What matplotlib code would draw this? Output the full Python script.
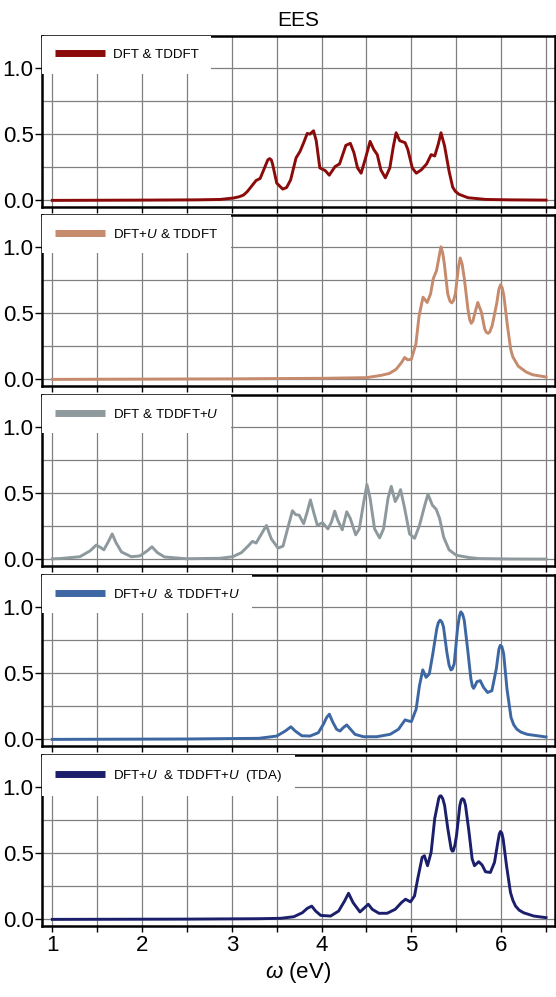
import matplotlib
matplotlib.use('Agg')
import matplotlib.pyplot as plt
from matplotlib.ticker import MultipleLocator

plt.rcParams['font.family'] = ['Liberation Sans', 'DejaVu Sans']
plt.rcParams['mathtext.fontset'] = 'custom'
plt.rcParams['mathtext.rm'] = 'Liberation Sans'
plt.rcParams['mathtext.it'] = 'Liberation Sans:italic'

# EES spectra, omega in eV
w_dft = [1.0, 2.0, 2.6, 2.87, 3.02, 3.08, 3.13, 3.17, 3.20, 3.27, 3.315, 3.37, 3.40, 3.42,
         3.44, 3.455, 3.50, 3.567, 3.61, 3.655, 3.715, 3.76, 3.80, 3.84, 3.87, 3.91, 3.94,
         3.98, 4.04, 4.085, 4.15, 4.20, 4.27, 4.32, 4.36, 4.40, 4.44, 4.49, 4.54, 4.58, 4.62,
         4.66, 4.71, 4.76, 4.80, 4.83, 4.87, 4.93, 4.96, 5.01, 5.055, 5.11, 5.17, 5.22, 5.26,
         5.30, 5.33, 5.37, 5.42, 5.46, 5.49, 5.53, 5.63, 5.83, 6.1, 6.5]
ees_dft = [0.0, 0.002, 0.004, 0.007, 0.018, 0.027, 0.04, 0.065, 0.09, 0.15, 0.165, 0.255,
           0.305, 0.315, 0.305, 0.27, 0.13, 0.085, 0.097, 0.155, 0.32, 0.37, 0.435, 0.505,
           0.50, 0.525, 0.45, 0.245, 0.225, 0.19, 0.255, 0.275, 0.415, 0.43, 0.36, 0.245,
           0.205, 0.32, 0.445, 0.385, 0.345, 0.23, 0.17, 0.245, 0.41, 0.51, 0.45, 0.435,
           0.385, 0.245, 0.205, 0.23, 0.275, 0.345, 0.335, 0.425, 0.51, 0.41, 0.22, 0.10,
           0.068, 0.046, 0.02, 0.007, 0.004, 0.002]

w_dftu = [1.0, 2.0, 3.0, 4.0, 4.5, 4.66, 4.756, 4.83, 4.89, 4.925, 4.96, 5.0, 5.05, 5.086,
          5.13, 5.176, 5.214, 5.244, 5.28, 5.31, 5.33, 5.35, 5.367, 5.405, 5.43, 5.45, 5.47,
          5.49, 5.525, 5.544, 5.565, 5.59, 5.63, 5.65, 5.667, 5.685, 5.705, 5.74, 5.78, 5.817,
          5.835, 5.855, 5.875, 5.90, 5.95, 5.975, 5.994, 6.012, 6.03, 6.07, 6.106, 6.13, 6.19,
          6.28, 6.35, 6.5]
ees_dftu = [0.0, 0.002, 0.004, 0.008, 0.013, 0.03, 0.045, 0.076, 0.127, 0.165, 0.147, 0.152,
            0.266, 0.48, 0.62, 0.58, 0.645, 0.76, 0.82, 0.93, 1.0, 0.95, 0.873, 0.645, 0.59,
            0.577, 0.595, 0.645, 0.85, 0.916, 0.87, 0.76, 0.53, 0.45, 0.423, 0.44, 0.494,
            0.58, 0.506, 0.38, 0.355, 0.347, 0.36, 0.405, 0.57, 0.68, 0.714, 0.69, 0.633,
            0.405, 0.228, 0.17, 0.10, 0.055, 0.035, 0.018]

w_tdu = [1.0, 1.084, 1.307, 1.42, 1.49, 1.537, 1.574, 1.62, 1.667, 1.708, 1.77, 1.88, 1.975,
         2.057, 2.11, 2.17, 2.25, 2.49, 2.866, 3.01, 3.107, 3.18, 3.23, 3.27, 3.33, 3.385,
         3.44, 3.515, 3.57, 3.626, 3.675, 3.71, 3.75, 3.80, 3.84, 3.875, 3.91, 3.953, 4.01,
         4.07, 4.11, 4.146, 4.18, 4.23, 4.28, 4.32, 4.38, 4.42, 4.47, 4.505, 4.54, 4.59,
         4.646, 4.69, 4.74, 4.776, 4.82, 4.85, 4.88, 4.925, 4.98, 5.036, 5.09, 5.15, 5.185,
         5.233, 5.277, 5.315, 5.36, 5.42, 5.5, 5.65, 5.756, 6.1, 6.5]
ees_tdu = [0.004, 0.006, 0.02, 0.064, 0.108, 0.09, 0.072, 0.128, 0.192, 0.128, 0.056, 0.02,
           0.026, 0.064, 0.095, 0.051, 0.018, 0.005, 0.008, 0.02, 0.051, 0.10, 0.136, 0.123,
           0.192, 0.256, 0.154, 0.085, 0.10, 0.244, 0.367, 0.338, 0.333, 0.269, 0.359, 0.449,
           0.359, 0.256, 0.277, 0.23, 0.282, 0.364, 0.295, 0.223, 0.359, 0.308, 0.185, 0.23,
           0.436, 0.564, 0.462, 0.23, 0.162, 0.23, 0.462, 0.551, 0.436, 0.474, 0.526, 0.385,
           0.192, 0.159, 0.256, 0.41, 0.492, 0.41, 0.377, 0.308, 0.167, 0.072, 0.031, 0.013,
           0.006, 0.003, 0.002]

w_uu = [1.0, 2.5, 3.3, 3.5, 3.595, 3.658, 3.706, 3.78, 3.87, 3.963, 4.02, 4.056, 4.086, 4.123,
        4.167, 4.205, 4.242, 4.28, 4.316, 4.372, 4.465, 4.614, 4.763, 4.856, 4.93, 4.967, 5.0,
        5.053, 5.09, 5.127, 5.164, 5.2, 5.239, 5.283, 5.30, 5.32, 5.34, 5.358, 5.395, 5.42,
        5.44, 5.455, 5.477, 5.514, 5.535, 5.551, 5.57, 5.589, 5.626, 5.663, 5.68, 5.693, 5.71,
        5.73, 5.767, 5.804, 5.849, 5.897, 5.946, 5.975, 5.99, 6.008, 6.028, 6.065, 6.11, 6.14,
        6.176, 6.22, 6.29, 6.5]
ees_uu = [0.0, 0.003, 0.008, 0.025, 0.063, 0.095, 0.063, 0.027, 0.025, 0.05, 0.114, 0.165,
          0.19, 0.132, 0.076, 0.063, 0.089, 0.109, 0.081, 0.038, 0.02, 0.02, 0.038, 0.076,
          0.147, 0.139, 0.134, 0.228, 0.405, 0.524, 0.468, 0.494, 0.646, 0.835, 0.88, 0.899,
          0.885, 0.848, 0.658, 0.56, 0.524, 0.53, 0.57, 0.835, 0.93, 0.962, 0.945, 0.899,
          0.684, 0.456, 0.40, 0.385, 0.405, 0.435, 0.443, 0.392, 0.354, 0.367, 0.532, 0.68,
          0.709, 0.70, 0.646, 0.38, 0.165, 0.11, 0.076, 0.055, 0.038, 0.018]

w_tda = [1.0, 2.5, 3.3, 3.544, 3.69, 3.785, 3.84, 3.89, 3.933, 3.99, 4.1, 4.19, 4.256, 4.30,
         4.35, 4.427, 4.48, 4.52, 4.564, 4.638, 4.73, 4.82, 4.89, 4.935, 4.99, 5.035, 5.07,
         5.12, 5.145, 5.18, 5.22, 5.26, 5.306, 5.318, 5.33, 5.35, 5.37, 5.406, 5.443, 5.455,
         5.466, 5.485, 5.503, 5.54, 5.555, 5.57, 5.587, 5.603, 5.64, 5.677, 5.703, 5.75,
         5.788, 5.826, 5.88, 5.926, 5.963, 5.98, 5.993, 6.008, 6.022, 6.06, 6.104, 6.13, 6.16,
         6.2, 6.25, 6.364, 6.5]
ees_tda = [0.0, 0.002, 0.005, 0.008, 0.02, 0.05, 0.083, 0.10, 0.063, 0.03, 0.025, 0.063,
           0.139, 0.197, 0.127, 0.056, 0.089, 0.114, 0.076, 0.046, 0.046, 0.076, 0.127, 0.152,
           0.132, 0.177, 0.304, 0.468, 0.48, 0.405, 0.506, 0.76, 0.916, 0.93, 0.932, 0.91,
           0.86, 0.684, 0.532, 0.515, 0.516, 0.56, 0.633, 0.86, 0.90, 0.911, 0.90, 0.86, 0.67,
           0.456, 0.405, 0.435, 0.41, 0.359, 0.354, 0.43, 0.582, 0.645, 0.663, 0.65, 0.608,
           0.405, 0.203, 0.145, 0.101, 0.07, 0.05, 0.025, 0.013]

labels = ['DFT & TDDFT',
          'DFT+$U$ & TDDFT',
          'DFT & TDDFT+$U$',
          'DFT+$U$  & TDDFT+$U$',
          'DFT+$U$  & TDDFT+$U$  (TDA)']
colors = ['#8b0a0a', '#c68a6c', '#8e999e', '#3d67a2', '#1b1f6b']
series = [(w_dft, ees_dft), (w_dftu, ees_dftu), (w_tdu, ees_tdu),
          (w_uu, ees_uu), (w_tda, ees_tda)]

W, H = 556, 997
fig = plt.figure(figsize=(W / 100, H / 100), dpi=100)
fig.patch.set_facecolor('white')

tops = [36, 215, 395, 575, 755]
ph = 171
axes = []
for i, ((w, y), lab, col) in enumerate(zip(series, labels, colors)):
    ax = fig.add_axes([42 / W, 1 - (tops[i] + ph) / H, 513 / W, ph / H])
    ax.plot(w, y, color=col, lw=2.1, solid_joinstyle='round', label=lab)
    ax.set_xlim(0.885, 6.60)
    ax.set_ylim(-0.05, 1.24)
    ax.xaxis.set_major_locator(MultipleLocator(1))
    ax.xaxis.set_minor_locator(MultipleLocator(0.5))
    ax.yaxis.set_major_locator(MultipleLocator(0.5))
    ax.yaxis.set_minor_locator(MultipleLocator(0.25))
    ax.grid(True, which='both', color='#808080', lw=0.9)
    ax.set_axisbelow(True)
    for s in ax.spines.values():
        s.set_linewidth(1.8)
    ax.tick_params(axis='x', which='both', direction='out', length=4.5, width=1.0,
                   labelsize=16, pad=2)
    ax.tick_params(axis='y', which='major', direction='out', length=5, width=1.0,
                   labelsize=16, pad=1)
    ax.tick_params(axis='y', which='minor', length=0)
    ax.set_yticks([0, 0.5, 1.0])
    ax.set_yticklabels(['0.0', '0.5', '1.0'])
    if i < 4:
        ax.tick_params(axis='x', labelbottom=False)
    leg = ax.legend(loc='upper left', bbox_to_anchor=(0, 1), borderaxespad=0,
                    fontsize=9.6, handlelength=3.75, handletextpad=0.6, borderpad=0.95,
                    frameon=True, fancybox=False, framealpha=1, edgecolor='none',
                    facecolor='white')
    leg.get_frame().set_linewidth(0)
    for ln in leg.get_lines():
        ln.set_linewidth(5)
        ln.set_solid_capstyle('butt')
    axes.append(ax)

axes[0].set_title('EES', fontsize=15, pad=7)
axes[-1].set_xlabel(r'$\omega$ (eV)', fontsize=16, labelpad=3)

fig.savefig('out.png', dpi=100, facecolor='white')
